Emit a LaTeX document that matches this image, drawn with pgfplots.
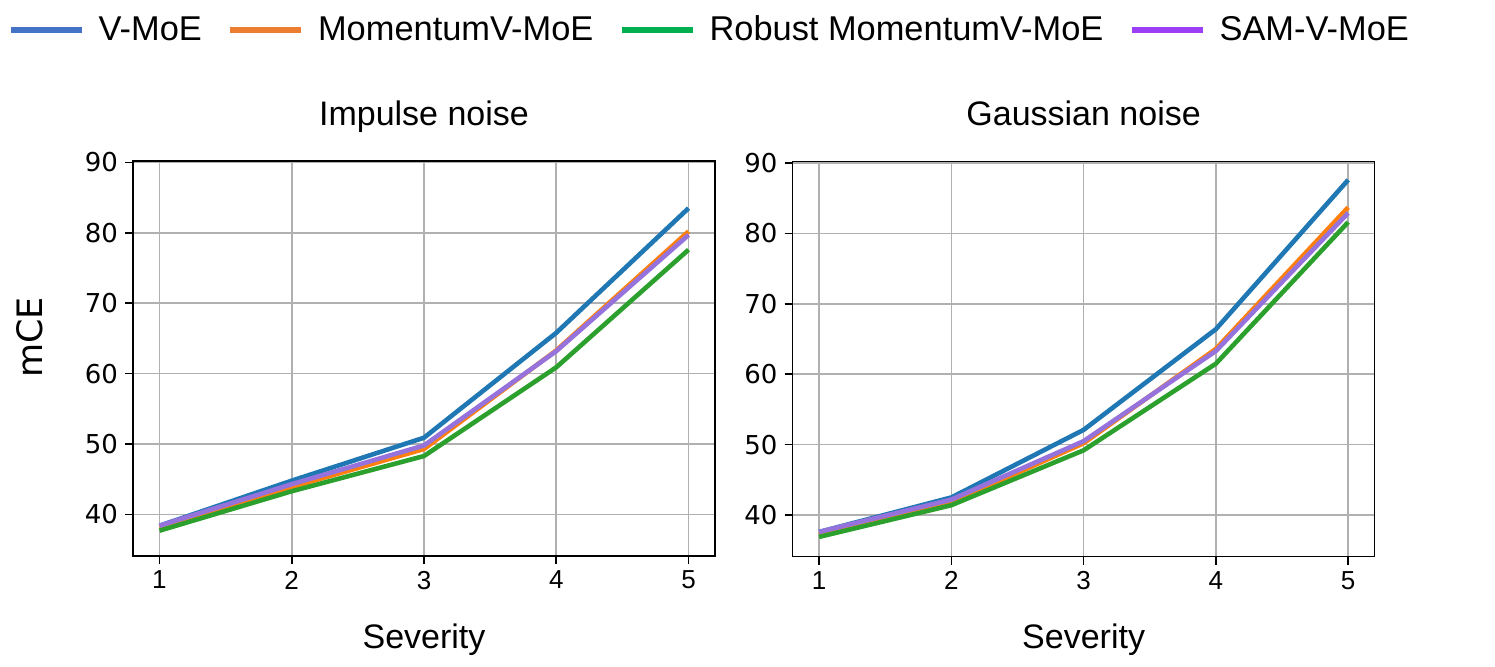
\documentclass[border=0pt]{standalone}
\usepackage{fontspec}
\setmainfont{Liberation Sans}
\newfontfamily\dejavu{DejaVu Sans}
\usepackage{pgfplots}
\pgfplotsset{compat=1.18}
\definecolor{tabblue}{HTML}{1F77B4}
\definecolor{taborange}{HTML}{FF7F0E}
\definecolor{tabgreen}{HTML}{2CA02C}
\definecolor{tabpurple}{RGB}{150,115,220}
\definecolor{legblue}{HTML}{4472C4}
\definecolor{legorange}{HTML}{ED7D31}
\definecolor{leggreen}{HTML}{00B050}
\definecolor{legpurple}{HTML}{9B3EF5}
\definecolor{gridgray}{HTML}{B0B0B0}
\pgfplotsset{myaxis/.style={
  width=291pt, height=197.5pt, scale only axis,
  xmin=0.8, xmax=5.2, ymin=34.1, ymax=90.2,
  xtick={1,2,3,4,5}, ytick={40,50,60,70,80,90},
  grid=major, grid style={color=gridgray, line width=0.8pt},
  axis line style={line width=0.8pt},
  tick style={black, line width=0.8pt},
  tick align=outside, major tick length=4pt, tick pos=left,
  /pgf/number format/assume math mode=true,
  xticklabel style={font=\fontsize{13}{13}\selectfont},
  yticklabel style={font=\dejavu\fontsize{13}{13}\selectfont},
  title style={font=\fontsize{17}{17}\selectfont, at={(0.5,1)}, anchor=base, yshift=12pt},
  xlabel style={font=\fontsize{17}{17}\selectfont, at={(0.5,0)}, anchor=base, yshift=-46pt},
  every axis plot/.append style={line width=2.3pt, line join=round},
}}
\begin{document}
\begin{tikzpicture}
\useasboundingbox (0,0) rectangle (747.5pt,-333pt);
\begin{axis}[myaxis, at={(66.5pt,-80.5pt)}, anchor=north west,
  title={Impulse noise}, xlabel={Severity}, ylabel={mCE},
  ylabel style={font=\dejavu\fontsize{17.5}{17.5}\selectfont, at={(axis description cs:-0.177,0.553)}, anchor=center},
  legend columns=4,
  legend style={at={(axis description cs:-0.2147,1.3316)}, anchor=west, draw=none, fill=none, inner sep=0pt,
    font=\fontsize{17.2}{17.2}\selectfont,
    nodes={inner sep=0pt},
    /tikz/every odd column/.append style={column sep=7pt},
    /tikz/every even column/.append style={column sep=13pt}},
  legend image code/.code={\draw[#1] (0pt,0pt) -- (35.5pt,0pt);},
]
\addlegendimage{legblue, line width=2.6pt}
\addlegendentry{V-MoE}
\addlegendimage{legorange, line width=2.6pt}
\addlegendentry{MomentumV-MoE}
\addlegendimage{leggreen, line width=2.6pt}
\addlegendentry{Robust MomentumV-MoE}
\addlegendimage{legpurple, line width=2.6pt}
\addlegendentry{SAM-V-MoE}
\addplot[tabblue, forget plot] coordinates {(1,38.4) (2,44.8) (3,50.9) (4,65.8) (5,83.5)};
\addplot[taborange, forget plot] coordinates {(1,38.2) (2,43.9) (3,49.3) (4,63.3) (5,80.2)};
\addplot[tabgreen, forget plot] coordinates {(1,37.7) (2,43.3) (3,48.3) (4,60.9) (5,77.6)};
\addplot[tabpurple, forget plot] coordinates {(1,38.4) (2,44.3) (3,49.8) (4,63.2) (5,79.7)};
\end{axis}
\begin{axis}[myaxis, at={(396.3pt,-80.8pt)}, anchor=north west,
  title={Gaussian noise}, xlabel={Severity}]
\addplot[tabblue] coordinates {(1,37.6) (2,42.5) (3,52.1) (4,66.4) (5,87.6)};
\addplot[taborange] coordinates {(1,37.3) (2,41.8) (3,50.2) (4,63.6) (5,83.7)};
\addplot[tabgreen] coordinates {(1,36.9) (2,41.4) (3,49.2) (4,61.5) (5,81.6)};
\addplot[tabpurple] coordinates {(1,37.6) (2,42.2) (3,50.5) (4,63.3) (5,82.9)};
\end{axis}
\end{tikzpicture}
\end{document}
